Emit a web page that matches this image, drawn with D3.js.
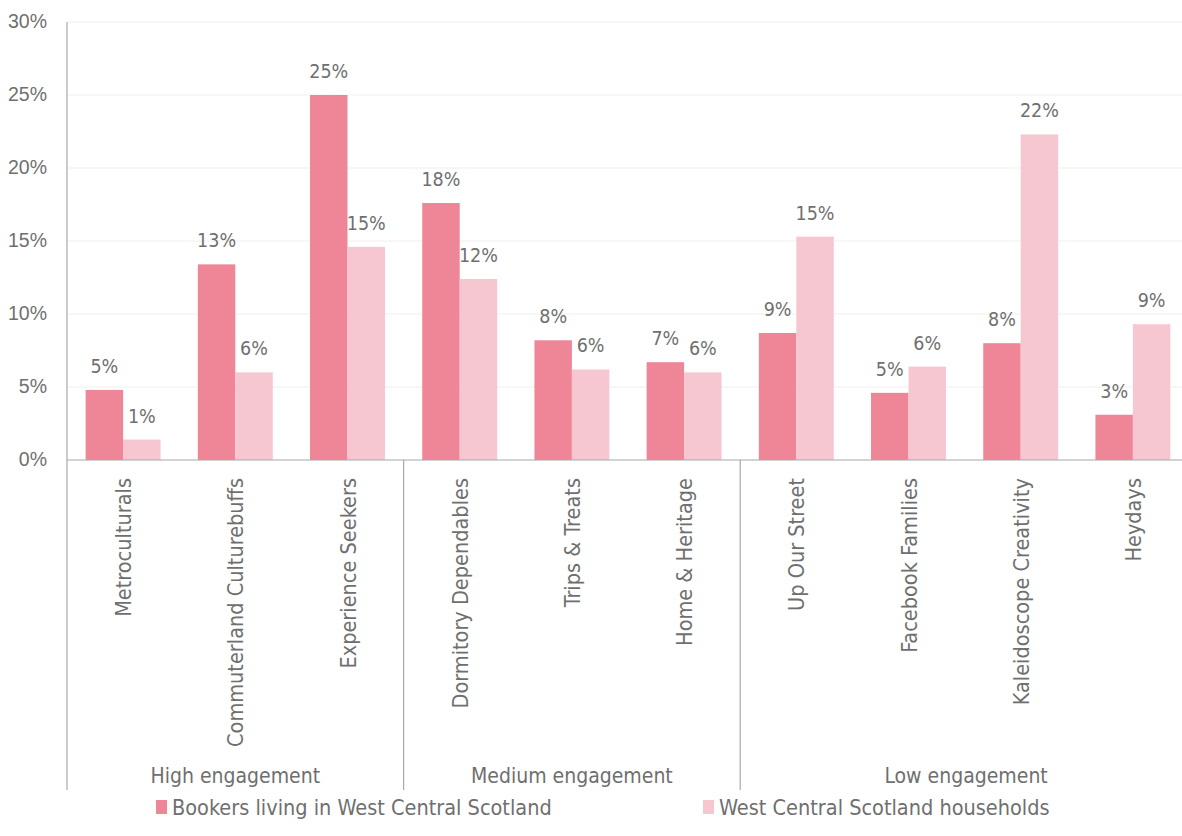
<!DOCTYPE html>
<html>
<head>
<meta charset="utf-8">
<script src="https://cdn.jsdelivr.net/npm/d3@7"></script>
<style>
  html, body { margin: 0; padding: 0; background: #fff; }
  svg { display: block; font-family: "DejaVu Sans Condensed", "DejaVu Sans", sans-serif; }
</style>
</head>
<body>
<svg id="chart" width="1182" height="836"></svg>
<script>
// Segments, grouped by engagement level
const categories = ["Metroculturals", "Commuterland Culturebuffs", "Experience Seekers",
  "Dormitory Dependables", "Trips & Treats", "Home & Heritage",
  "Up Our Street", "Facebook Families", "Kaleidoscope Creativity", "Heydays"];
const groups = ["High engagement", "Medium engagement", "Low engagement"];
const groupSizes = [3, 3, 4];
const seriesNames = ["Bookers living in West Central Scotland", "West Central Scotland households"];
// Share of each segment, in percent
const bookers = [4.8, 13.4, 25.0, 17.6, 8.2, 6.7, 8.7, 4.6, 8.0, 3.1];
const households = [1.4, 6.0, 14.6, 12.4, 6.2, 6.0, 15.3, 6.4, 22.3, 9.3];
const yTicks = [0, 5, 10, 15, 20, 25, 30];

const colors = ["#ef8697", "#f7c7d1"];
const textColor = "#6f6f6f";

const svg = d3.select("#chart");
const plot = { left: 67, right: 1189, top: 22, bottom: 460, floor: 790 };

const x = d3.scaleBand().domain(categories).range([plot.left, plot.right]).padding(0);
const xs = d3.scaleBand().domain([0, 1]).range([x.bandwidth() * 0.166, x.bandwidth() * 0.834]).padding(0);
const y = d3.scaleLinear().domain([0, 30]).range([plot.bottom, plot.top]);

// Horizontal gridlines
svg.append("g").selectAll("line").data(yTicks.filter(t => t > 0)).join("line")
  .attr("x1", plot.left).attr("x2", plot.right)
  .attr("y1", d => y(d)).attr("y2", d => y(d))
  .attr("stroke", "#efefef").attr("stroke-width", 1.2);

// Y axis labels
const yAxis = d3.axisLeft(y).tickValues(yTicks).tickFormat(d => d + "%").tickSize(0).tickPadding(20);
const ya = svg.append("g").attr("transform", `translate(${plot.left},0)`).call(yAxis);
ya.select(".domain").remove();
ya.selectAll("text").attr("fill", textColor).style("font-size", "19.5px")
  .style("font-family", "inherit").attr("dy", "0.27em");

// Bars
const rows = categories.map((c, i) => ({ c, vals: [bookers[i], households[i]] }));
const cat = svg.append("g").selectAll("g").data(rows).join("g")
  .attr("transform", d => `translate(${x(d.c)},0)`);
cat.selectAll("rect").data(d => d.vals.map((v, k) => ({ v, k }))).join("rect")
  .attr("x", d => xs(d.k)).attr("width", xs.bandwidth())
  .attr("y", d => y(d.v)).attr("height", d => y(0) - y(d.v))
  .attr("fill", d => colors[d.k]);
cat.selectAll("text.val").data(d => d.vals.map((v, k) => ({ v, k }))).join("text")
  .attr("class", "val")
  .attr("x", d => xs(d.k) + xs.bandwidth() / 2)
  .attr("y", d => y(d.v) - 17)
  .attr("text-anchor", "middle")
  .attr("fill", textColor).style("font-size", "19.5px")
  .text(d => Math.round(d.v) + "%");

// Baseline and y axis line
svg.append("line").attr("x1", plot.left).attr("x2", plot.right).attr("y1", plot.bottom).attr("y2", plot.bottom)
  .attr("stroke", "#a8a8a8").attr("stroke-width", 1.2);
svg.append("line").attr("x1", plot.left).attr("x2", plot.left).attr("y1", plot.top).attr("y2", plot.floor)
  .attr("stroke", "#a8a8a8").attr("stroke-width", 1.2);

// Group separators
let acc = 0;
const bounds = groupSizes.map(n => { const s = acc; acc += n; return [s, acc]; });
svg.append("g").selectAll("line").data(bounds).join("line")
  .attr("x1", d => x(categories[d[1] - 1]) + x.step()).attr("x2", d => x(categories[d[1] - 1]) + x.step())
  .attr("y1", plot.bottom).attr("y2", plot.floor)
  .attr("stroke", "#a8a8a8").attr("stroke-width", 1.2);

// Category labels, rotated
svg.append("g").selectAll("text").data(categories).join("text")
  .attr("transform", d => `translate(${x(d) + x.bandwidth() / 2 + 8},${plot.bottom + 18}) rotate(-90)`)
  .attr("text-anchor", "end")
  .attr("fill", textColor).style("font-size", "21.5px")
  .text(d => d);

// Group labels
svg.append("g").selectAll("text").data(bounds).join("text")
  .attr("x", (d, i) => i === 2 ? (x(categories[d[0]]) + 1182) / 2 + 5 : (x(categories[d[0]]) + x(categories[d[1] - 1]) + x.step()) / 2)
  .attr("y", 783)
  .attr("text-anchor", "middle")
  .attr("fill", textColor).style("font-size", "21px")
  .text((d, i) => groups[i]);

// Legend
const legendX = [156, 703];
const lg = svg.append("g").selectAll("g").data(seriesNames).join("g")
  .attr("transform", (d, i) => `translate(${legendX[i]},800)`);
lg.append("rect").attr("width", 11).attr("height", 14).attr("fill", (d, i) => colors[i]);
lg.append("text").attr("x", 16).attr("y", 15)
  .attr("fill", textColor).style("font-size", "21.5px")
  .text(d => d);
</script>
</body>
</html>
